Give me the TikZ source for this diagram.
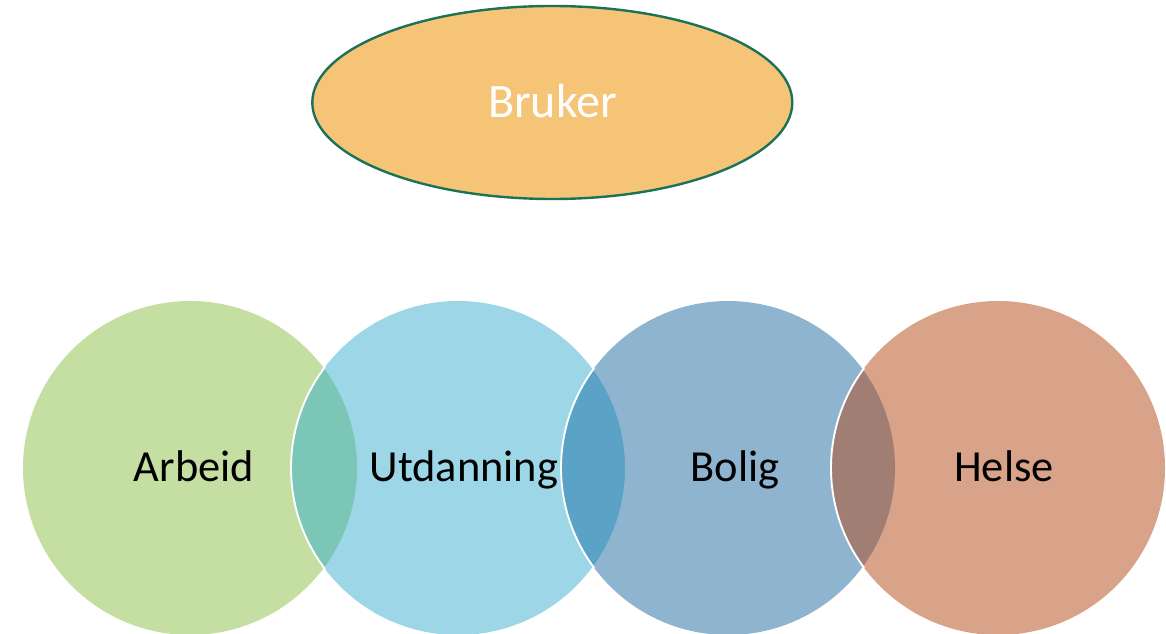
\documentclass[tikz,border=0pt]{standalone}
\usepackage{fontspec}
\setmainfont{Carlito}
\definecolor{cA}{HTML}{C5DFA3}
\definecolor{cU}{HTML}{9DD7E7}
\definecolor{cB}{HTML}{8EB4D0}
\definecolor{cH}{HTML}{D9A38A}
\definecolor{lAU}{HTML}{7CC6B8}
\definecolor{lUB}{HTML}{5AA3C6}
\definecolor{lBH}{HTML}{A07E73}
\definecolor{ellfill}{HTML}{F5C477}
\definecolor{ellline}{HTML}{1B7257}
\tikzset{
  lbl/.style={font=\fontsize{33.3}{40}\selectfont, text=black, inner sep=0pt, anchor=base},
}
\begin{document}
\begin{tikzpicture}[x=0.75pt,y=-0.75pt]
\useasboundingbox (0,0) rectangle (1166,634);
\begin{scope}
\clip (0,0) rectangle (1166,634);
% circles
\def\R{167}
\coordinate (cA) at (190,468);
\coordinate (cU) at (458,468);
\coordinate (cB) at (728,468);
\coordinate (cH) at (998,468);
\fill[cA] (cA) circle (\R);
\fill[cU] (cU) circle (\R);
\fill[cB] (cB) circle (\R);
\fill[cH] (cH) circle (\R);
% lenses
\begin{scope}\clip (cA) circle (\R); \fill[lAU] (cU) circle (\R);\end{scope}
\begin{scope}\clip (cU) circle (\R); \fill[lUB] (cB) circle (\R);\end{scope}
\begin{scope}\clip (cB) circle (\R); \fill[lBH] (cH) circle (\R);\end{scope}
% white outlines
\begin{scope}\clip (cA) circle (\R+2); \draw[white, line width=1.4pt] (cU) circle (\R);\end{scope}
\begin{scope}\clip (cU) circle (\R+2); \draw[white, line width=1.4pt] (cB) circle (\R);\end{scope}
\begin{scope}\clip (cB) circle (\R+2); \draw[white, line width=1.4pt] (cH) circle (\R);\end{scope}
\end{scope}
% labels
\node[lbl] (arbeid) at (194,481) {Arbeid};
\node[lbl] (utd) at (464,481) {Utdanning};
\node[lbl] (bolig) at (735,481) {Bolig};
\node[lbl] (helse) at (1004,481) {Helse};
% ellipse
\draw[fill=ellfill, draw=ellline, line width=1.8pt] (552.3,102.5) ellipse [x radius=240, y radius=96.5];
\node[font=\fontsize{36}{42}\selectfont, text=white, inner sep=0pt, anchor=base] (bruker) at (552.5,118) {Bruker};
\end{tikzpicture}
\end{document}
